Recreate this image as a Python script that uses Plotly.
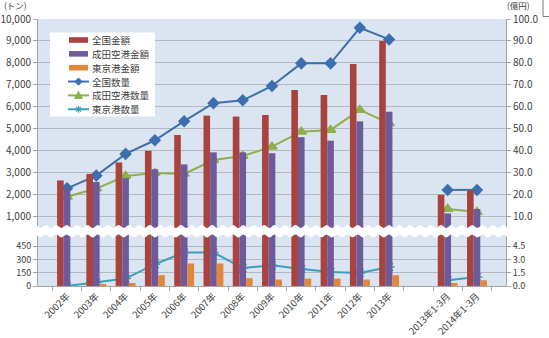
import numpy as np
import plotly.graph_objects as go

categories = ["2002年", "2003年", "2004年", "2005年", "2006年", "2007年", "2008年",
              "2009年", "2010年", "2011年", "2012年", "2013年", " ",
              "2013年1-3月", "2014年1-3月"]
# 金額 (億円)
zenkoku_kingaku = [26.5, 29.5, 34.7, 40.0, 47.2, 56.0, 55.6, 56.3, 67.7, 65.4, 79.5, 90.0, None, 20.0, 22.0]
narita_kingaku = [23.0, 25.8, 27.5, 31.6, 33.8, 39.3, 39.3, 38.9, 46.2, 44.6, 53.4, 57.8, None, 11.5, 13.5]
tokyo_kingaku = [0.0, 0.12, 0.34, 1.22, 2.55, 2.55, 0.88, 0.73, 0.84, 0.84, 0.73, 1.22, None, 0.34, 0.65]
# 数量 (トン)
zenkoku_suryo = [2290, 2870, 3860, 4480, 5350, 6170, 6300, 6950, 7980, 7980, 9600, 9070, None, 2220, 2220]
narita_suryo = [1910, 2280, 2850, 2990, 2950, 3580, 3760, 4190, 4870, 4950, 5860, 5250, None, 1350, 1210]
tokyo_suryo = [0, 39, 84, 247, 380, 380, 205, 235, 192, 159, 148, 216, None, 65, 102]

top_ticks = [1000, 2000, 3000, 4000, 5000, 6000, 7000, 8000, 9000, 10000]
top_ticks_r = [10, 20, 30, 40, 50, 60, 70, 80, 90, 100]
bot_ticks = [0, 150, 300, 450]
bot_ticks_r = [0, 1.5, 3.0, 4.5]

RED, PURPLE, ORANGE = "#A9433F", "#6E5A9A", "#E0873A"
BLUE, GREEN, TEAL = "#3D6FAF", "#8DB04C", "#3E9FBA"
FONT = "Noto Sans CJK JP"
GRID = "#B4B8BE"
AX = "#A6A6A6"
TXT = "#404040"

W, H = 549, 338
L, R, T, B = 38, 506, 19, 286
PH = B - T


def xp(px):
    return (px - L) / (R - L)


def yp(py):
    return (B - py) / PH


top_dom = [yp(229), 1.0]
bot_dom = [0.0, yp(234)]
top_range = [10000 - (229 - T) / (216.7 - T) * 9000, 10000]
bot_range = [0, 450 * (B - 234) / (B - 246.3)]

fig = go.Figure()

bars = [("全国金額", zenkoku_kingaku, RED), ("成田空港金額", narita_kingaku, PURPLE),
        ("東京港金額", tokyo_kingaku, ORANGE)]
for name, vals, col in bars:
    fig.add_trace(go.Bar(x=categories, y=vals, name=name, marker=dict(color=col, line=dict(width=0)),
                         xaxis="x2", yaxis="y2", showlegend=False))
for name, vals, col in bars:
    fig.add_trace(go.Bar(x=categories, y=vals, name=name, marker=dict(color=col, line=dict(width=0)),
                         xaxis="x", yaxis="y4", showlegend=False))

lines = [("全国数量", zenkoku_suryo, BLUE, "diamond", 8),
         ("成田空港数量", narita_suryo, GREEN, "triangle-up", 9),
         ("東京港数量", tokyo_suryo, TEAL, "asterisk-open", 9)]
for xa, ya in (("x2", "y"), ("x", "y3")):
    for name, vals, col, sym, sz in lines:
        fig.add_trace(go.Scatter(x=categories, y=vals, name=name, mode="lines+markers",
                                 line=dict(color=col, width=2),
                                 marker=dict(symbol=sym, size=sz, color=col,
                                             line=dict(color=col, width=1.5)),
                                 xaxis=xa, yaxis=ya, showlegend=False,
                                 connectgaps=False, cliponaxis=True))

tickfont = dict(family=FONT, size=10, color=TXT)
tickfont_small = dict(family=FONT, size=9, color=TXT)

shapes = []
# wavy white break band
xs = np.linspace(L - 2, R + 2, 240)
top_edge = 226.5 + 1.6 * np.sin((xs - L) / 10.4 * 2 * np.pi)
bot_edge = 236.0 + 1.6 * np.sin((xs - L) / 10.4 * 2 * np.pi)
pts = list(zip(xs, top_edge)) + list(zip(xs[::-1], bot_edge[::-1]))
path = "M " + " L ".join(f"{xp(x):.5f},{yp(y):.5f}" for x, y in pts) + " Z"
shapes.append(dict(type="path", xref="paper", yref="paper", path=path,
                   fillcolor="white", line=dict(width=0), layer="above"))

# custom legend (compact like the original)
annotations = []
shapes.append(dict(type="rect", xref="paper", yref="paper", x0=xp(50), x1=xp(155),
                   y0=yp(32.5), y1=yp(116.5), fillcolor="white", line=dict(width=0),
                   layer="above"))
row_y = [40 + i * 13.85 for i in range(6)]
sx0, sx1, cx = 69, 88, 78.5
for (name, vals, col), ry in zip(bars, row_y[:3]):
    shapes.append(dict(type="rect", xref="paper", yref="paper", x0=xp(sx0), x1=xp(sx1),
                       y0=yp(ry + 2.8), y1=yp(ry - 2.8), fillcolor=col, line=dict(width=0),
                       layer="above"))
    annotations.append(dict(text=name, xref="paper", yref="paper", x=xp(90), y=yp(ry),
                            xanchor="left", yanchor="middle", showarrow=False,
                            font=dict(family=FONT, size=9.5, color=TXT)))
for (name, vals, col, sym, sz), ry in zip(lines, row_y[3:]):
    shapes.append(dict(type="line", xref="paper", yref="paper", x0=xp(68), x1=xp(89),
                       y0=yp(ry), y1=yp(ry), line=dict(color=col, width=2), layer="above"))
    if sym == "diamond":
        p = [(cx, ry - 3.6), (cx + 3.6, ry), (cx, ry + 3.6), (cx - 3.6, ry)]
        d = "M " + " L ".join(f"{xp(a):.5f},{yp(b):.5f}" for a, b in p) + " Z"
        shapes.append(dict(type="path", xref="paper", yref="paper", path=d, fillcolor=col,
                           line=dict(color=col, width=1), layer="above"))
    elif sym == "triangle-up":
        p = [(cx, ry - 4), (cx + 4, ry + 3), (cx - 4, ry + 3)]
        d = "M " + " L ".join(f"{xp(a):.5f},{yp(b):.5f}" for a, b in p) + " Z"
        shapes.append(dict(type="path", xref="paper", yref="paper", path=d, fillcolor=col,
                           line=dict(color=col, width=1), layer="above"))
    else:
        r = 3.5
        segs = [((cx - r, ry), (cx + r, ry)), ((cx, ry - r), (cx, ry + r)),
                ((cx - r * 0.7, ry - r * 0.7), (cx + r * 0.7, ry + r * 0.7)),
                ((cx - r * 0.7, ry + r * 0.7), (cx + r * 0.7, ry - r * 0.7))]
        d = " ".join(f"M {xp(a[0]):.5f},{yp(a[1]):.5f} L {xp(b[0]):.5f},{yp(b[1]):.5f}"
                     for a, b in segs)
        shapes.append(dict(type="path", xref="paper", yref="paper", path=d,
                           line=dict(color=col, width=1.2), layer="above"))
    annotations.append(dict(text=name, xref="paper", yref="paper", x=xp(90), y=yp(ry),
                            xanchor="left", yanchor="middle", showarrow=False,
                            font=dict(family=FONT, size=9.5, color=TXT)))

# unit labels
annotations.append(dict(text="(トン)", xref="paper", yref="paper", x=xp(2), y=yp(5),
                        xanchor="left", yanchor="middle", showarrow=False,
                        font=dict(family=FONT, size=8.5, color=TXT)))
annotations.append(dict(text="(億円)", xref="paper", yref="paper", x=xp(505), y=yp(5),
                        xanchor="left", yanchor="middle", showarrow=False,
                        font=dict(family=FONT, size=8.5, color=TXT)))
# corner of outer frame at top right
shapes.append(dict(type="path", xref="paper", yref="paper",
                   path=f"M {xp(543):.5f},{yp(-1):.5f} L {xp(543):.5f},{yp(16.5):.5f} L {xp(550):.5f},{yp(16.5):.5f}",
                   line=dict(color="#7F7F7F", width=1), layer="above"))

fig.update_layout(
    width=W, height=H,
    margin=dict(l=L, r=W - R, t=T, b=H - B, autoexpand=False),
    paper_bgcolor="white", plot_bgcolor="#DBE5F1",
    barmode="group", bargap=0.32, bargroupgap=0,
    font=dict(family=FONT, size=9, color=TXT),
    showlegend=False,
    xaxis=dict(domain=[0, 1], anchor="y3", type="category", tickangle=-45,
               tickfont=dict(family=FONT, size=9.5, color=TXT),
               showline=True, linecolor=AX, ticks="outside", tickson="boundaries", ticklen=4,
               tickcolor=AX, showgrid=False, automargin=False),
    xaxis2=dict(domain=[0, 1], anchor="y", matches="x", type="category", showticklabels=False,
                showgrid=False, showline=False, ticks="", automargin=False),
    yaxis=dict(domain=top_dom, range=top_range, anchor="x2", tickvals=top_ticks, tickformat=",d",
               tickfont=tickfont, showgrid=True, gridcolor=GRID, gridwidth=1, zeroline=False,
               showline=True, linecolor=AX, ticks="outside", ticklen=4, tickcolor=AX,
               automargin=False),
    yaxis2=dict(domain=top_dom, range=[top_range[0] / 100, top_range[1] / 100], anchor="x2",
                overlaying="y", side="right", tickvals=top_ticks_r, tickformat=".1f",
                tickfont=tickfont, showgrid=False, zeroline=False, showline=True, linecolor=AX,
                ticks="outside", ticklen=4, tickcolor=AX, automargin=False),
    yaxis3=dict(domain=bot_dom, range=bot_range, anchor="x", tickvals=bot_ticks, tickformat="d",
                tickfont=tickfont_small, showgrid=True, gridcolor=GRID, gridwidth=1,
                zeroline=False, showline=True, linecolor=AX, ticks="outside", ticklen=4,
                tickcolor=AX, automargin=False),
    yaxis4=dict(domain=bot_dom, range=[bot_range[0] / 100, bot_range[1] / 100], anchor="x",
                overlaying="y3", side="right", tickvals=bot_ticks_r, tickformat=".1f",
                tickfont=tickfont_small, showgrid=False, zeroline=False, showline=True,
                linecolor=AX, ticks="outside", ticklen=4, tickcolor=AX, automargin=False),
    shapes=shapes,
    annotations=annotations,
)

fig.write_html("out.html")
